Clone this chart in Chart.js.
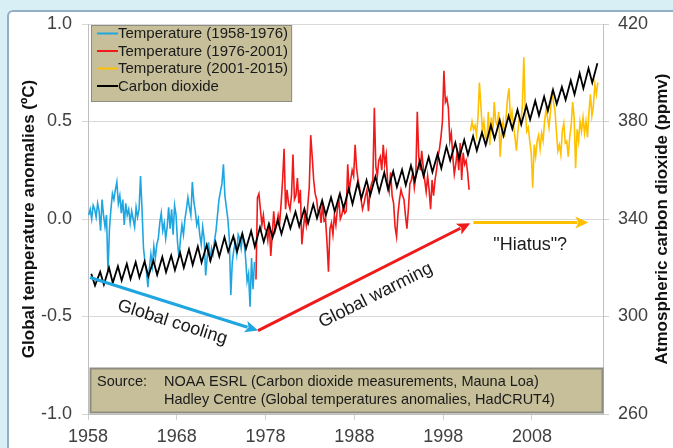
<!DOCTYPE html>
<html>
<head>
<meta charset="utf-8">
<script src="https://cdn.jsdelivr.net/npm/chart.js@4/dist/chart.umd.min.js"></script>
<style>
  html, body { margin: 0; padding: 0; width: 673px; height: 448px; overflow: hidden; background: #d8f0f5; }
  #panel { position: absolute; left: 7px; top: 10px; width: 720px; height: 500px; background: #ffffff;
           border: 2px solid #93afc5; border-radius: 6px; box-sizing: border-box; }
  #wrap { position: absolute; left: 0; top: 0; width: 673px; height: 448px; }
</style>
</head>
<body>
<div id="panel"></div>
<div id="wrap"><canvas id="chart" width="673" height="448"></canvas></div>
<script>
// ---- Axis ticks ----
const yearTicks = [1958, 1968, 1978, 1988, 1998, 2008];
const tempTickStep = 0.5;
const co2TickStep = 40;

// ---- Global temperature anomalies (HadCRUT4, degC), six samples per year ----
const tempBlueStart = 1958;          // Jan 1958
const tempBlue = [
  0.02, 0.05, 0.00, 0.07, 0.05, 0.01,
  0.08, 0.04, -0.06, 0.10, 0.02, -0.04,
  0.02, -0.27, -0.05, 0.05, 0.13, 0.10,
  0.15, 0.19, 0.08, 0.12, 0.03, 0.10,
  -0.03, 0.08, 0.02, 0.05, -0.02, 0.04,
  0.00, -0.04, 0.06, 0.01, 0.05, 0.22,
  0.05, -0.15, -0.22, -0.27, -0.35, -0.25,
  -0.18, -0.24, -0.14, -0.20, -0.13, -0.10,
  -0.02, 0.03, -0.06, -0.02, -0.10, -0.04,
  0.06, -0.05, 0.05, -0.08, 0.07, 0.02,
  -0.12, -0.20, -0.10, -0.03, -0.08, 0.00,
  0.05, 0.11, 0.06, 0.02, 0.19, 0.09,
  0.04, -0.03, 0.00, -0.08, -0.13, -0.04,
  -0.10, -0.29, -0.20, -0.12, -0.22, -0.15,
  -0.18, -0.11, -0.06, 0.02, 0.10, 0.14,
  0.18, 0.28, 0.12, 0.06, 0.00, -0.10,
  -0.39, -0.22, -0.16, -0.12, -0.18, -0.08,
  -0.10, -0.15, -0.08, -0.12, -0.20, -0.32,
  -0.28, -0.45, -0.20, -0.36, -0.22
];
const tempRedStart = 1976 + 5 / 6;   // Nov 1976
const tempRed = [
  -0.31,
  0.11, 0.13, 0.05, -0.03, 0.02, -0.05,
  -0.06, -0.11, -0.02, -0.19, -0.08, 0.04,
  -0.06, -0.03, 0.02, -0.02, 0.08, 0.20,
  0.36, 0.05, 0.15, 0.08, 0.05, 0.12,
  0.33, 0.10, 0.12, 0.21, 0.08, 0.15,
  -0.13, -0.05, 0.02, -0.03, 0.07, 0.16,
  0.43, 0.32, 0.20, 0.13, 0.10, 0.03,
  0.05, -0.02, 0.08, -0.01, 0.00, -0.12,
  -0.27, -0.05, -0.02, -0.08, 0.02, -0.03,
  0.05, 0.10, 0.00, 0.02, 0.06, 0.03,
  0.04, 0.28, 0.14, 0.20, 0.25, 0.22,
  0.38, 0.26, 0.20, 0.16, 0.10, 0.05,
  0.08, 0.12, 0.15, 0.04, 0.14, 0.18,
  0.20, 0.57, 0.27, 0.22, 0.30, 0.32,
  0.25, 0.38, 0.28, 0.33, 0.18, 0.14,
  0.24, 0.12, 0.08, -0.04, -0.09, 0.03,
  0.10, 0.15, 0.12, 0.10, 0.02, -0.05,
  0.05, 0.18, 0.20, 0.24, 0.16, 0.22,
  0.55, 0.32, 0.25, 0.35, 0.27, 0.20,
  0.14, 0.22, 0.15, 0.05, 0.20, 0.12,
  0.20, 0.25, 0.32, 0.36, 0.42, 0.50,
  0.76, 0.60, 0.62, 0.57, 0.40, 0.44,
  0.32, 0.23, 0.28, 0.35, 0.25, 0.39,
  0.20, 0.34, 0.28, 0.30, 0.24, 0.15
];
const tempYellowStart = 2001;        // Jan 2001
const tempYellow = [
  0.45, 0.50, 0.46, 0.48, 0.43, 0.52,
  0.70, 0.58, 0.45, 0.50, 0.42, 0.40,
  0.55, 0.38, 0.52, 0.44, 0.60, 0.50,
  0.48, 0.55, 0.32, 0.44, 0.50, 0.42,
  0.52, 0.62, 0.67, 0.50, 0.55, 0.48,
  0.42, 0.35, 0.45, 0.52, 0.50, 0.58,
  0.83, 0.55, 0.45, 0.47, 0.40, 0.34,
  0.16, 0.38, 0.32, 0.40, 0.43, 0.36,
  0.44, 0.40, 0.50, 0.56, 0.52, 0.47,
  0.55, 0.66, 0.60, 0.56, 0.45, 0.35,
  0.38, 0.33, 0.45, 0.49, 0.39, 0.40,
  0.32, 0.42, 0.48, 0.60, 0.52, 0.26,
  0.46, 0.40, 0.50, 0.45, 0.52, 0.44,
  0.50, 0.42, 0.55, 0.64, 0.53, 0.58,
  0.69, 0.64, 0.70
];

// ---- Mauna Loa CO2 (ppmv): yearly May maximum and October minimum ----
const co2StartYear = 1958;
const co2May = [
  317.5, 318.3, 320.0, 320.6, 321.6, 322.3, 322.6, 322.9, 324.4, 325.0,
  326.2, 327.6, 328.7, 329.3, 330.5, 332.5, 332.9, 334.0, 335.1, 336.6,
  338.0, 339.5, 341.5, 343.0, 344.2, 346.0, 347.6, 348.9, 350.4, 352.4,
  354.9, 355.9, 357.4, 359.1, 359.6, 360.2, 361.9, 363.8, 365.4, 366.7,
  369.7, 371.3, 372.4, 374.0, 375.5, 378.5, 380.6, 382.3, 384.8, 386.5,
  388.5, 390.2, 393.0, 394.2, 396.8, 399.8, 401.8, 403.9
];
const co2Oct = [
  312.7, 313.1, 313.8, 314.8, 315.4, 316.0, 316.5, 317.1, 318.2, 319.0,
  320.0, 321.2, 322.2, 322.9, 324.6, 326.6, 326.7, 327.8, 328.6, 330.6,
  332.4, 333.9, 336.2, 337.0, 338.3, 340.3, 341.5, 343.1, 344.3, 346.2,
  348.4, 349.8, 351.1, 352.2, 353.1, 353.9, 355.7, 357.6, 359.3, 360.8,
  364.0, 364.9, 366.4, 368.1, 370.4, 372.9, 374.2, 377.0, 378.8, 380.8,
  382.5, 384.4, 387.2, 388.9, 391.1, 393.6, 395.9
];

// ---- Text ----
const seriesNames = ['Temperature (1958-1976)', 'Temperature (1976-2001)', 'Temperature (2001-2015)', 'Carbon dioxide'];
const leftTitle = 'Global temperature anomalies (\u00baC)';
const rightTitle = 'Atmospheric carbon dioxide (ppmv)';
const sourceLabel = 'Source:';
const sourceLines = ['NOAA ESRL (Carbon dioxide measurements, Mauna Loa)',
                     'Hadley Centre (Global temperatures anomalies, HadCRUT4)'];

const FONT = '"Liberation Sans", Arial, Helvetica, sans-serif';
const BLUE = '#1fa6e0', RED = '#f01a1a', GOLD = '#ffc000', BLACK = '#000000';
const TAN = '#c6bf9a';

// bimonthly samples placed at the middle of each two-month block
function toPoints(start, values) {
  return values.map((v, k) => ({ x: start + (k + 0.5) / 6, y: v }));
}
function co2Points() {
  const pts = [];
  co2May.forEach((v, i) => {
    pts.push({ x: co2StartYear + i + 0.37, y: v });
    if (i < co2Oct.length) pts.push({ x: co2StartYear + i + 0.79, y: co2Oct[i] });
  });
  return pts;
}

// annotation arrows and captions, in (year, anomaly) coordinates
const arrows = [
  { from: [1958.23, -0.30], to: [1977.15, -0.572], color: BLUE },
  { from: [1977.15, -0.572], to: [2001.05, -0.022], color: RED },
  { from: [2001.4, -0.018], to: [2014.35, -0.018], color: GOLD }
];
const captions = [
  { text: 'Global cooling', at: [1967.5, -0.53], along: 0 },
  { text: 'Global warming', at: [1990.4, -0.392], along: 1 },
  { text: '"Hiatus"?', at: [2007.8, -0.136], along: -1 }
];

function drawArrow(ctx, x0, y0, x1, y1, color) {
  const ang = Math.atan2(y1 - y0, x1 - x0);
  const hl = 13, hw = 6;
  const bx = x1 - hl * Math.cos(ang), by = y1 - hl * Math.sin(ang);
  ctx.strokeStyle = color; ctx.lineWidth = 3; ctx.lineCap = 'butt';
  ctx.beginPath(); ctx.moveTo(x0, y0); ctx.lineTo(bx + 2 * Math.cos(ang), by + 2 * Math.sin(ang)); ctx.stroke();
  ctx.fillStyle = color;
  ctx.beginPath();
  ctx.moveTo(x1, y1);
  ctx.lineTo(bx - hw * Math.sin(ang), by + hw * Math.cos(ang));
  ctx.lineTo(bx + 3 * Math.cos(ang), by + 3 * Math.sin(ang));
  ctx.lineTo(bx + hw * Math.sin(ang), by - hw * Math.cos(ang));
  ctx.closePath(); ctx.fill();
}

const decor = {
  id: 'decor',
  afterDatasetsDraw(chart) {
    const { ctx, chartArea: a, scales } = chart;
    const X = scales.x, Y = scales.yT;
    const px = p => [X.getPixelForValue(p[0]), Y.getPixelForValue(p[1])];
    ctx.save();

    // arrows
    const geo = arrows.map(ar => {
      const [x0, y0] = px(ar.from), [x1, y1] = px(ar.to);
      drawArrow(ctx, x0, y0, x1, y1, ar.color);
      return Math.atan2(y1 - y0, x1 - x0);
    });

    // captions
    ctx.fillStyle = '#1a1a1a';
    ctx.font = '18px ' + FONT;
    ctx.textAlign = 'center'; ctx.textBaseline = 'middle';
    captions.forEach(c => {
      const [cx, cy] = px(c.at);
      ctx.save();
      ctx.translate(cx, cy);
      if (c.along >= 0) ctx.rotate(geo[c.along]);
      ctx.fillText(c.text, 0, 0);
      ctx.restore();
    });

    // legend box
    const ds = chart.data.datasets;
    ctx.font = '15px ' + FONT;
    const lx = a.left + 3, ly = a.top + 1, rowH = 17.5, sample = 21;
    let tw = 0; ds.forEach(d => { tw = Math.max(tw, ctx.measureText(d.label).width); });
    const lw = 6 + sample + tw + 4, lh = 8 + rowH * ds.length - 1;
    ctx.fillStyle = TAN; ctx.fillRect(lx, ly, lw, lh);
    ctx.strokeStyle = '#8c8c80'; ctx.lineWidth = 1; ctx.strokeRect(lx + 0.5, ly + 0.5, lw - 1, lh - 1);
    ctx.textAlign = 'left'; ctx.textBaseline = 'middle';
    ds.forEach((d, i) => {
      const ry = ly + 8.5 + rowH * i;
      ctx.strokeStyle = d.borderColor; ctx.lineWidth = 2;
      ctx.beginPath(); ctx.moveTo(lx + 6, ry); ctx.lineTo(lx + 6 + sample, ry); ctx.stroke();
      ctx.fillStyle = '#1a1a1a';
      ctx.fillText(d.label, lx + 6 + sample, ry + 0.5);
    });

    // source box
    const sx = a.left + 2, sy = a.bottom - 46, sw = a.right - sx, sh = 45;
    ctx.fillStyle = TAN; ctx.fillRect(sx, sy, sw, sh);
    ctx.strokeStyle = '#8c8c80'; ctx.strokeRect(sx + 0.5, sy + 0.5, sw - 1, sh - 1);
    ctx.fillStyle = '#1a1a1a'; ctx.font = '14.5px ' + FONT;
    ctx.fillText(sourceLabel, sx + 7, sy + 14);
    sourceLines.forEach((t, i) => ctx.fillText(t, sx + 74, sy + 14 + 18 * i));
    ctx.restore();
  },
  afterDraw(chart) {
    const { ctx, chartArea: a } = chart;
    ctx.save();
    ctx.fillStyle = '#111111';
    ctx.font = 'bold 17px ' + FONT;
    ctx.textAlign = 'center'; ctx.textBaseline = 'middle';
    const cy = (a.top + a.bottom) / 2;
    [[29, leftTitle], [662, rightTitle]].forEach(([cx, t]) => {
      ctx.save(); ctx.translate(cx, cy); ctx.rotate(-Math.PI / 2); ctx.fillText(t, 0, 0); ctx.restore();
    });
    ctx.restore();
  }
};

const tickFont = { family: FONT, size: 18 };
const tickColor = '#404040';

new Chart(document.getElementById('chart'), {
  type: 'line',
  data: {
    datasets: [
      { label: seriesNames[0], data: toPoints(tempBlueStart, tempBlue), borderColor: BLUE, borderWidth: 1.6, yAxisID: 'yT', order: 1 },
      { label: seriesNames[1], data: toPoints(tempRedStart, tempRed), borderColor: RED, borderWidth: 1.6, yAxisID: 'yT', order: 1 },
      { label: seriesNames[2], data: toPoints(tempYellowStart, tempYellow), borderColor: GOLD, borderWidth: 1.6, yAxisID: 'yT', order: 1 },
      { label: seriesNames[3], data: co2Points(), borderColor: BLACK, borderWidth: 1.8, yAxisID: 'yC', order: 0 }
    ]
  },
  options: {
    responsive: false, animation: false, devicePixelRatio: 1,
    layout: { padding: { top: 24, left: 0, right: 0, bottom: 0 } },
    elements: { point: { radius: 0 }, line: { tension: 0, fill: false } },
    plugins: { legend: { display: false }, tooltip: { enabled: false } },
    scales: {
      x: {
        type: 'linear', position: 'bottom', min: 1958, max: 2016,
        afterBuildTicks: s => { s.ticks = yearTicks.map(v => ({ value: v })); },
        afterFit: s => { s.height = 34; },
        grid: { drawOnChartArea: false, tickLength: 6, color: '#d0d0d0' },
        border: { color: '#bfbfbf' },
        ticks: { font: tickFont, color: tickColor, padding: 6, maxRotation: 0, autoSkip: false, callback: v => String(v) }
      },
      yT: {
        type: 'linear', position: 'left', min: -1, max: 1,
        afterFit: s => { s.width = 88; },
        grid: { color: '#d9d9d9', tickLength: 6 },
        border: { color: '#bfbfbf' },
        ticks: { stepSize: tempTickStep, font: tickFont, color: tickColor, padding: 10, callback: v => Number(v).toFixed(1) }
      },
      yC: {
        type: 'linear', position: 'right', min: 260, max: 420,
        afterFit: s => { s.width = 70; },
        grid: { drawOnChartArea: false, tickLength: 6, color: '#d0d0d0' },
        border: { color: '#bfbfbf' },
        ticks: { stepSize: co2TickStep, font: tickFont, color: tickColor, padding: 9, callback: v => String(v) }
      }
    }
  },
  plugins: [decor]
});
</script>
</body>
</html>
